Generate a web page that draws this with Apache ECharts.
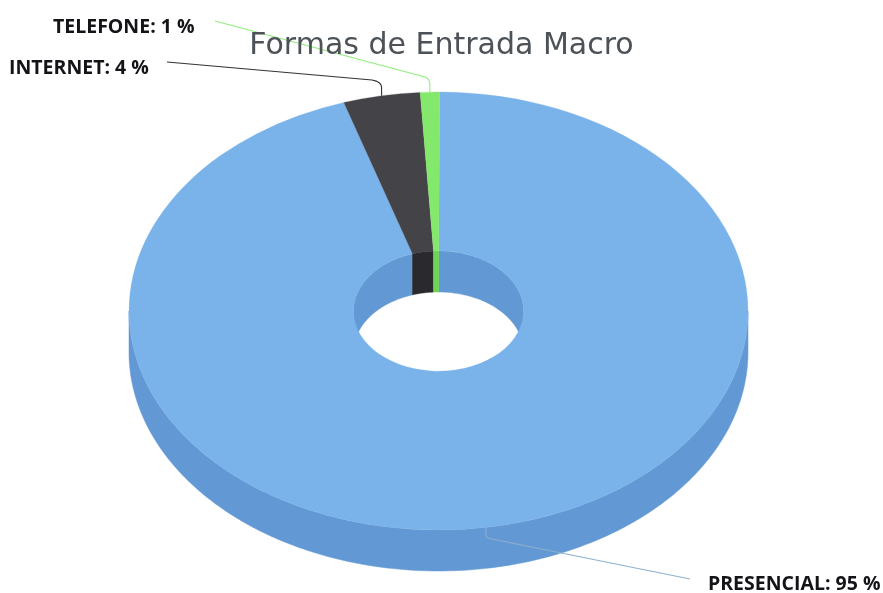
<!DOCTYPE html>
<html>
<head>
<meta charset="utf-8">
<style>html,body{margin:0;padding:0;background:#fff}#c{width:883px;height:593px}</style>
<script src="https://cdn.jsdelivr.net/npm/echarts@6/dist/echarts.min.js"></script>
</head>
<body>
<div id="c"></div>
<script>
var titleText = 'Formas de Entrada Macro';
var categories = ['PRESENCIAL', 'INTERNET', 'TELEFONE'];
var values = [95, 4, 1];

var topColors = ['#7ab2ea', '#434348', '#84e86c'];
var wallColors = ['#6298d3', '#2a2a2e', '#6fd455'];
var lineColors = ['#8fb0d0', '#333338', '#90ed7d'];

var geo = { cx: 438.5, cy: 311, rx: 309.5, ry: 219, irx: 85, iry: 60, depth: 41, start: 0.2 };
var labelLayout = [
  { tx: 708, ty: 584, ex: 690, ey: 579, drop: 11, elbow: [492, 539] },
  { tx: 9,   ty: 68,  ex: 167, ey: 62,  drop: -14, elbow: [372, 80] },
  { tx: 53,  ty: 27,  ex: 215, ey: 21,  drop: -13, elbow: [425, 77] }
];

var total = values.reduce(function (a, b) { return a + b; }, 0);
function sliceRange(i) {
  var sum = 0;
  for (var k = 0; k < i; k++) sum += values[k];
  return [geo.start + sum / total * 360, geo.start + (sum + values[i]) / total * 360];
}
function rad(d) { return d * Math.PI / 180; }
function pt(deg, rx, ry, dy) {
  return [geo.cx + rx * Math.sin(rad(deg)), geo.cy - ry * Math.cos(rad(deg)) + (dy || 0)];
}
function wall(a, b, rx, ry, color) {
  var up = [], down = [];
  var n = Math.max(2, Math.ceil((b - a) / 1));
  for (var k = 0; k <= n; k++) {
    var d = a + (b - a) * k / n;
    up.push(pt(d, rx, ry, 0));
    down.unshift(pt(d, rx, ry, geo.depth));
  }
  return {
    type: 'polygon',
    shape: { points: up.concat(down) },
    style: { fill: color, stroke: color, lineWidth: 0.5 }
  };
}
function clipped(r, windows, rx, ry, color, out) {
  windows.forEach(function (w) {
    var a = Math.max(r[0], w[0]), b = Math.min(r[1], w[1]);
    if (b > a) out.push(wall(a, b, rx, ry, color));
  });
}
function renderWalls(params, api) {
  var i = api.value(0), r = sliceRange(i), kids = [];
  clipped(r, [[-90, 90], [270, 450]], geo.irx, geo.iry, wallColors[i], kids);
  clipped(r, [[90, 270]], geo.rx, geo.ry, wallColors[i], kids);
  return { type: 'group', children: kids };
}
function renderTop(params, api) {
  var i = api.value(0), r = sliceRange(i), k = geo.ry / geo.rx;
  return {
    type: 'sector',
    x: geo.cx, y: geo.cy, scaleY: k,
    shape: {
      cx: 0, cy: 0, r: geo.rx, r0: geo.irx,
      startAngle: rad(r[0] - 90), endAngle: rad(r[1] - 90), clockwise: true
    },
    style: { fill: topColors[i], stroke: topColors[i], lineWidth: 0.3 }
  };
}
function renderLabel(params, api) {
  var i = api.value(0), r = sliceRange(i), L = labelLayout[i];
  var mid = (r[0] + r[1]) / 2, s = pt(mid, geo.rx, geo.ry, 0);
  var bend = [s[0], s[1] + L.drop * 0.6], e = L.elbow, pts = [s, bend];
  for (var t = 0.25; t <= 1; t += 0.25) {
    pts.push([
      (1 - t) * (1 - t) * bend[0] + 2 * t * (1 - t) * s[0] + t * t * e[0],
      (1 - t) * (1 - t) * bend[1] + 2 * t * (1 - t) * (s[1] + L.drop) + t * t * e[1]
    ]);
  }
  pts.push([L.ex, L.ey]);
  return {
    type: 'group',
    children: [
      { type: 'polyline', shape: { points: pts }, style: { fill: null, stroke: lineColors[i], lineWidth: 1.1 } },
      {
        type: 'text',
        style: {
          x: L.tx, y: L.ty, text: categories[api.value(0)] + ': ' + api.value(1) + ' %',
          fill: '#141418', font: 'bold 19.5px "Open Sans"', textAlign: 'left', textVerticalAlign: 'middle'
        }
      }
    ]
  };
}
var data = values.map(function (v, i) { return [i, v]; });
var chart = echarts.init(document.getElementById('c'), null, { renderer: 'canvas' });
chart.setOption({
  animation: false,
  backgroundColor: '#ffffff',
  title: {
    text: titleText, left: 'center', top: 26,
    textStyle: { fontFamily: 'DejaVu Sans', fontWeight: 'normal', fontSize: 30, color: '#4c5257' }
  },
  tooltip: { show: false },
  series: [
    { type: 'custom', coordinateSystem: 'none', silent: true, z: 1, renderItem: renderWalls, data: data },
    { type: 'custom', coordinateSystem: 'none', silent: true, z: 2, renderItem: renderTop, data: data },
    { type: 'custom', coordinateSystem: 'none', silent: true, z: 3, renderItem: renderLabel, data: data }
  ]
});
</script>
</body>
</html>
